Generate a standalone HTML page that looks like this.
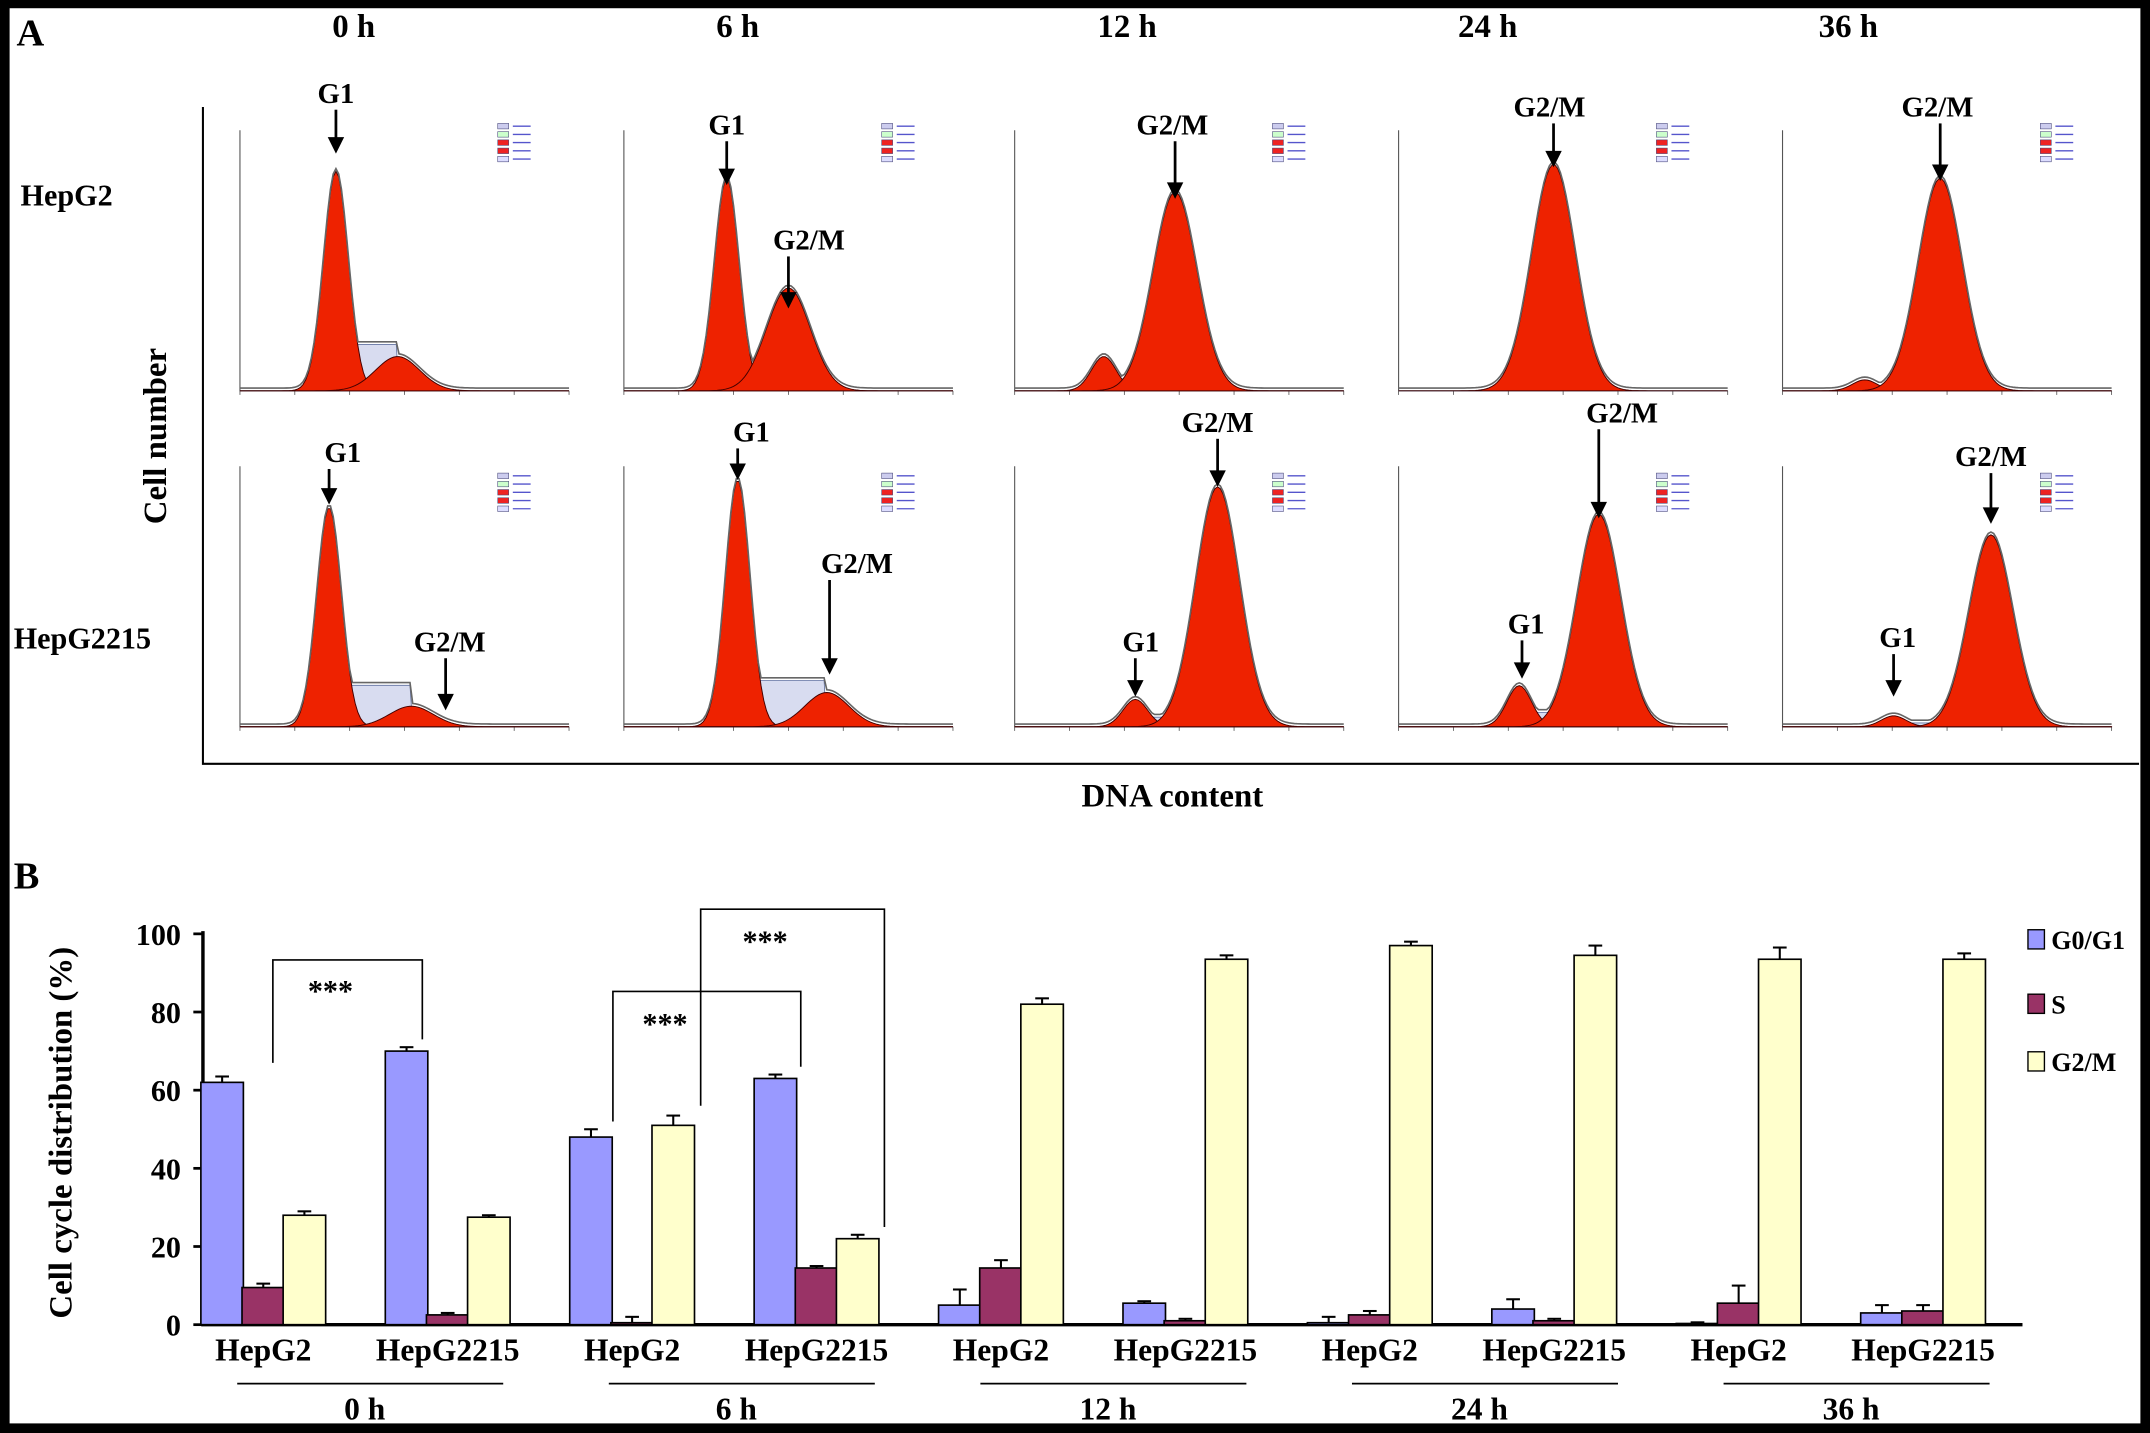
<!DOCTYPE html>
<html><head><meta charset="utf-8"><style>
html,body{margin:0;padding:0;background:#000;}
svg{display:block;}
text{font-family:"Liberation Serif",serif;font-weight:bold;}
</style></head><body>
<svg id="s" width="2150" height="1433" viewBox="0 0 1568 1045" preserveAspectRatio="none" xmlns="http://www.w3.org/2000/svg">
<rect x="0" y="0" width="1568" height="1045" fill="#000"/>
<rect x="7" y="6" width="1554" height="1032" fill="#fff"/>
<text x="12" y="33" font-size="28">A</text>
<text x="10" y="648" font-size="28">B</text>
<g id="A"></g>
<g id="B"></g>
</svg>
<script>
const NS="http://www.w3.org/2000/svg";
function mk(p,t,a){const e=document.createElementNS(NS,t);for(const k in a)e.setAttribute(k,a[k]);p.appendChild(e);return e;}
const A=document.getElementById('A'),B=document.getElementById('B');

// ---------- Part A ----------
const times=["0 h","6 h","12 h","24 h","36 h"];
const timeX=[258,538,822,1085,1348];
const panelX=[175,455,740,1020,1300];
const rowBase=[285,530];
const rowNames=["HepG2","HepG2215"];
// peak params per panel: [g1Center(px from panel start), g1Height, g2Center, g2Height]
const peaks=[
 [70,160,115,25],[75,155,120,75],[65,25,117,145],[60,0,113,165],[60,8,115,155],
 [65,160,125,15],[83,180,148,25],[88,20,148,175],[88,30,146,155],[81,8,152,140]];
const labels=[
 [["G1",245,75,245,112]],[["G1",530,98,530,135],["G2/M",590,182,575,225]],[["G2/M",855,98,857,145]],[["G2/M",1130,85,1133,122]],[["G2/M",1413,85,1415,132]],
 [["G1",250,337,240,368],["G2/M",328,475,325,518]],[["G1",548,322,538,350],["G2/M",625,418,605,492]],[["G2/M",888,315,888,355],["G1",832,475,828,508]],[["G2/M",1183,308,1166,378],["G1",1113,462,1110,495]],[["G2/M",1452,340,1452,382],["G1",1384,472,1381,508]]];
times.forEach((t,i)=>{const e=mk(A,'text',{x:timeX[i],y:27,'font-size':24,'text-anchor':'middle'});e.textContent=t;

});
rowNames.forEach((n,r)=>{const e=mk(A,'text',{x:r?10:15,y:r?473:150,'font-size':22});e.textContent=n;

});
let cn=mk(A,'text',{x:0,y:0,'font-size':24,'text-anchor':'middle',transform:'translate(121,318) rotate(-90)'});cn.textContent="Cell number";


let dc=mk(A,'text',{x:855,y:588,'font-size':24,'text-anchor':'middle'});dc.textContent="DNA content";


mk(A,'path',{d:'M148 78 V557 H1560',stroke:'#000','stroke-width':1.5,fill:'none'});
function g(x,c,s){return Math.exp(-((x-c)*(x-c))/(2*s*s));}
for(let p=0;p<10;p++){
  const r=p<5?0:1,px=panelX[p%5],base=rowBase[r],pk=peaks[p];
  const grp=mk(A,'g',{});
  
  
  const W=240;
  mk(grp,'path',{d:`M${px} ${base-190} V${base} H${px+W}`,stroke:'#555','stroke-width':0.8,fill:'none'});
  for(let k=0;k<=6;k++){mk(grp,'line',{x1:px+k*40,y1:base,x2:px+k*40,y2:base+3,stroke:'#555','stroke-width':0.6});}
  let d1='',d2='',ds='',dt='';
  for(let x=0;x<=W;x+=2){
    const a=pk[1]*g(x,pk[0],9),b=pk[3]*g(x,pk[2],16);
    const s=(x>pk[0]&&x<pk[2])?Math.min(pk[1],pk[3],40)*0.35+ (pk[1]>100&&pk[3]<40?25:0):0;
    d1+=(x?'L':'M')+(px+x)+' '+(base-a);
    d2+=(x?'L':'M')+(px+x)+' '+(base-b);
    ds+=(x?'L':'M')+(px+x)+' '+(base-s);
    dt+=(x?'L':'M')+(px+x)+' '+(base-Math.max(a,b,s)-2);
  }
  mk(grp,'path',{d:ds+`L${px+W} ${base}L${px} ${base}Z`,fill:'#d8dcf0',stroke:'#6070a0','stroke-width':0.6});
  if(pk[1]>0)mk(grp,'path',{d:d1+`L${px+W} ${base}L${px} ${base}Z`,fill:'#ee2200',stroke:'#400','stroke-width':0.7});
  mk(grp,'path',{d:d2+`L${px+W} ${base}L${px} ${base}Z`,fill:'#ee2200',stroke:'#400','stroke-width':0.7});
  mk(grp,'path',{d:dt,fill:'none',stroke:'#666','stroke-width':1.2});
  const lx=px+188,ly=base-(r?185:195);
  ['#cce','#cfc','#e22','#e22','#ddf'].forEach((c,k)=>{mk(grp,'rect',{x:lx,y:ly+k*6,width:8,height:4,fill:c,stroke:'#447','stroke-width':0.4});
    mk(grp,'line',{x1:lx+11,y1:ly+k*6+2,x2:lx+24,y2:ly+k*6+2,stroke:'#55c','stroke-width':1});});
  labels[p].forEach(l=>{const t=mk(grp,'text',{x:l[1],y:l[2],'font-size':21,'text-anchor':'middle'});t.textContent=l[0];
    mk(grp,'path',{d:`M${l[3]} ${l[2]+5} V${l[4]-8}`,stroke:'#000','stroke-width':2});
    mk(grp,'path',{d:`M${l[3]-6} ${l[4]-12} L${l[3]} ${l[4]} L${l[3]+6} ${l[4]-12}Z`,fill:'#000'});});
}

// ---------- Part B ----------
const groups=["HepG2","HepG2215","HepG2","HepG2215","HepG2","HepG2215","HepG2","HepG2215","HepG2","HepG2215"];
const timeLabels=["0 h","6 h","12 h","24 h","36 h"];
const g0g1=[62,70,48,63,5,5.5,0.5,4,0.3,3];
const sPhase=[9.5,2.5,0.5,14.5,14.5,1,2.5,1,5.5,3.5];
const g2m=[28,27.5,51,22,82,93.5,97,94.5,93.5,93.5];
const errG0=[1.5,1,2,1,4,0.5,1.5,2.5,0.3,2];
const errS=[1,0.5,1.5,0.5,2,0.5,1,0.5,4.5,1.5];
const errG2=[1,0.5,2.5,1,1.5,1,1,2.5,3,1.5];
const yTicks=[0,20,40,60,80,100];
const y0=966,yTop=681;
const ys=v=>y0-(v/100)*(y0-yTop);
const xs=(i,k)=>162+i*134.5+k*30;
const bw=31;
mk(B,'path',{d:`M148 ${yTop-2} V${y0} H1475`,stroke:'#000','stroke-width':2.5,fill:'none'});
yTicks.forEach(t=>{mk(B,'line',{x1:141,x2:148,y1:ys(t),y2:ys(t),stroke:'#000','stroke-width':2});
  const e=mk(B,'text',{x:132,y:ys(t)+8,'font-size':22,'text-anchor':'end'});e.textContent=t;
  
  });
let yt=mk(B,'text',{x:0,y:0,'font-size':24,'text-anchor':'middle',transform:'translate(52,826) rotate(-90)'});yt.textContent="Cell cycle distribution (%)";


const series=[[g0g1,errG0,'#9999ff','g0g1'],[sPhase,errS,'#993366','s'],[g2m,errG2,'#ffffcc','g2m']];
groups.forEach((gname,i)=>{
  series.forEach((s,k)=>{const v=s[0][i],e=s[1][i],cx=xs(i,k);
    mk(B,'line',{x1:cx,x2:cx,y1:ys(v),y2:ys(v+e),stroke:'#000','stroke-width':1.5});
    mk(B,'line',{x1:cx-5,x2:cx+5,y1:ys(v+e),y2:ys(v+e),stroke:'#000','stroke-width':1.5});
    const r=mk(B,'rect',{x:cx-bw/2,y:ys(v),width:bw,height:y0-ys(v),fill:s[2],stroke:'#000','stroke-width':1.2});
    
    });
  const t=mk(B,'text',{x:xs(i,1),y:992,'font-size':23,'text-anchor':'middle'});t.textContent=gname;
  
  
});
timeLabels.forEach((t,j)=>{const cx=270+j*271;
  mk(B,'line',{x1:cx-97,x2:cx+97,y1:1009,y2:1009,stroke:'#000','stroke-width':1.2});
  const e=mk(B,'text',{x:cx-4,y:1035,'font-size':23,'text-anchor':'middle'});e.textContent=t;
  
  });
// significance brackets
mk(B,'path',{d:`M199 ${ys(67)} V700 H308 V${ys(73)}`,stroke:'#000','stroke-width':1.2,fill:'none'});
mk(B,'path',{d:`M447 ${ys(52)} V723 H584 V${ys(66)}`,stroke:'#000','stroke-width':1.2,fill:'none'});
mk(B,'path',{d:`M511 ${ys(56)} V663 H645 V${ys(25)}`,stroke:'#000','stroke-width':1.2,fill:'none'});
[[241,730],[485,754],[558,694]].forEach((p,k)=>{const e=mk(B,'text',{x:p[0],y:p[1],'font-size':22,'text-anchor':'middle'});e.textContent="***";
  
  });
// legend
[['G0/G1','#9999ff',690],['S','#993366',737],['G2/M','#ffffcc',779]].forEach((l,k)=>{
  const gg=mk(B,'g',{});
  
  
  mk(gg,'rect',{x:1479,y:l[2]-12,width:12,height:14,fill:l[1],stroke:'#000','stroke-width':1});
  const t=mk(gg,'text',{x:1496,y:l[2]+2,'font-size':19});t.textContent=l[0];});
</script>
</body></html>
